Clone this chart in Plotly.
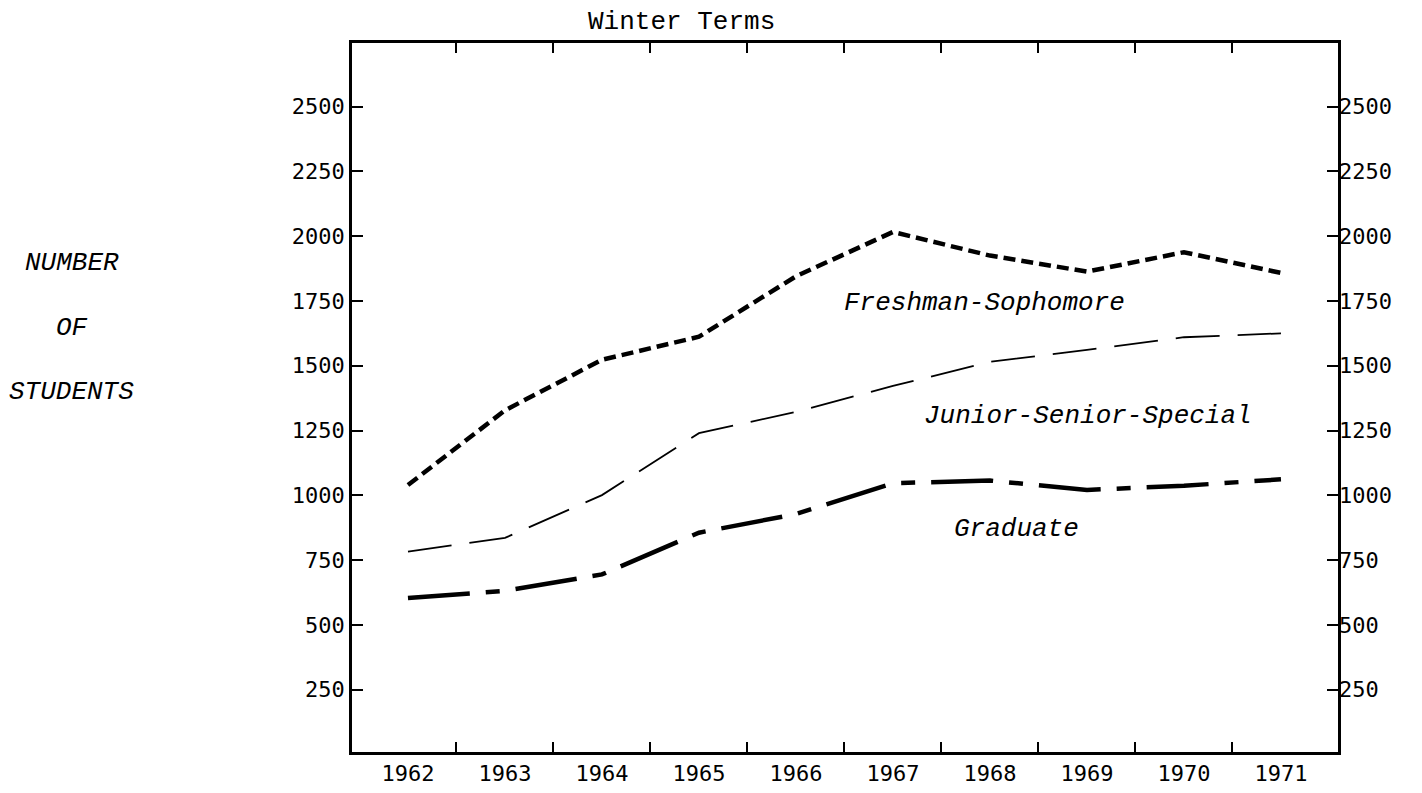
import plotly.graph_objects as go

years = [1962, 1963, 1964, 1965, 1966, 1967, 1968, 1969, 1970, 1971]
fresh_soph = [1040, 1328, 1523, 1612, 1845, 2016, 1925, 1863, 1938, 1858]
jun_sen_spec = [783, 836, 1001, 1240, 1322, 1422, 1515, 1561, 1610, 1625]
graduate = [604, 632, 695, 856, 928, 1047, 1057, 1021, 1037, 1062]
y_ticks = [250, 500, 750, 1000, 1250, 1500, 1750, 2000, 2250, 2500]
x_bounds = [1962.5, 1963.5, 1964.5, 1965.5, 1966.5, 1967.5, 1968.5, 1969.5, 1970.5]

mono = "Liberation Mono"
tickfont = dict(family="DejaVu Sans Mono", size=22, color="black")

fig = go.Figure()
fig.add_trace(go.Scatter(x=years, y=fresh_soph, mode="lines",
                         line=dict(color="black", width=4.5, dash="12px,6px"),
                         showlegend=False, hoverinfo="skip"))
fig.add_trace(go.Scatter(x=years, y=jun_sen_spec, mode="lines",
                         line=dict(color="black", width=1.8, dash="44px,18px"),
                         showlegend=False, hoverinfo="skip"))
fig.add_trace(go.Scatter(x=years, y=graduate, mode="lines", yaxis="y2",
                         line=dict(color="black", width=4.5, dash="62px,16px,14px,16px"),
                         showlegend=False, hoverinfo="skip"))

xmin, xmax = 1961.423, 1971.588
ymin, ymax = 10, 2745

fig.update_layout(
    width=1406, height=777,
    margin=dict(l=344, r=76, t=35, b=33),
    paper_bgcolor="white", plot_bgcolor="white",
    xaxis=dict(range=[xmin, xmax], tickmode="array", tickvals=years,
               ticktext=[str(y) for y in years], ticks="", automargin=False,
               showline=True, linecolor="black", linewidth=2.5, mirror="ticks",
               showgrid=False, zeroline=False, tickfont=tickfont,
               minor=dict(tickmode="array", tickvals=x_bounds, ticks="inside",
                          ticklen=10, tickwidth=2, tickcolor="black", showgrid=False)),
    yaxis=dict(range=[ymin, ymax], tickmode="array", tickvals=y_ticks, automargin=False,
               ticks="inside", ticklen=11, tickwidth=2, tickcolor="black",
               showline=True, linecolor="black", linewidth=2.5, mirror="ticks",
               showgrid=False, zeroline=False, tickfont=tickfont),
    yaxis2=dict(overlaying="y", side="right", matches="y", tickmode="array",
                tickvals=y_ticks, ticks="", showline=False, showgrid=False,
                automargin=False, zeroline=False, tickfont=tickfont),
)

ann_font_it = dict(family=mono, size=26, color="black", style="italic")
fig.add_annotation(x=1967.94, y=1742, xref="x", yref="y", text="Freshman-Sophomore",
                   showarrow=False, font=ann_font_it, xanchor="center", yanchor="middle")
fig.add_annotation(x=1969.01, y=1306, xref="x", yref="y", text="Junior-Senior-Special",
                   showarrow=False, font=ann_font_it, xanchor="center", yanchor="middle")
fig.add_annotation(x=1968.27, y=870, xref="x", yref="y", text="Graduate",
                   showarrow=False, font=ann_font_it, xanchor="center", yanchor="middle")

fig.add_annotation(x=0.3337, y=1.0296, xref="paper", yref="paper", text="Winter Terms",
                   showarrow=False, xanchor="center", yanchor="middle",
                   font=dict(family=mono, size=26, color="black"))
for txt, yy in [("NUMBER", 0.690), ("OF", 0.598), ("STUDENTS", 0.508)]:
    fig.add_annotation(x=-0.284, y=yy, xref="paper", yref="paper", text=txt,
                       showarrow=False, font=ann_font_it, xanchor="center", yanchor="middle")

fig.write_html("out.html")
